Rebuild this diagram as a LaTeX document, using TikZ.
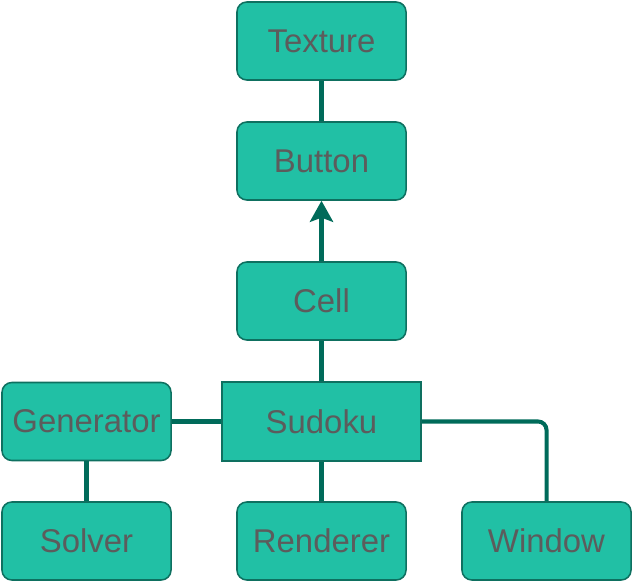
\documentclass[tikz,border=0pt]{standalone}
\usepackage{fontspec}
\setmainfont{Liberation Sans}
\usepackage{tikz}
\usetikzlibrary{arrows.meta}

\definecolor{boxfill}{HTML}{21C0A5}
\definecolor{boxline}{HTML}{0E7060}
\definecolor{linkline}{HTML}{006B5A}
\definecolor{labelgray}{HTML}{5C5C5C}

\begin{document}
\begin{tikzpicture}[x = 0.025cm, y = -0.025cm,
    classbox/.style = {fill = boxfill, draw = boxline, line width = 1.1pt, rounded corners = 7pt,
        text = labelgray, font = \fontsize{23.4}{28}\selectfont,
        minimum width = 4.225cm, minimum height = 1.95cm, inner sep = 0pt},
    mainbox/.style = {classbox, rounded corners = 0pt, minimum width = 4.975cm, minimum height = 1.975cm},
    link/.style = {linkline, line width = 2.85pt}]
    \useasboundingbox (0, 0) rectangle (632, 582);
    \node [classbox] (texture) at (321.5, 41) {Texture};
    \node [classbox] (button) at (321.5, 161) {Button};
    \node [classbox] (cell) at (321.5, 301) {Cell};
    \node [mainbox] (sudoku) at (321.5, 421.5) {Sudoku};
    \node [classbox] (generator) at (86.5, 421.5) {Generator};
    \node [classbox] (solver) at (86.5, 541) {Solver};
    \node [classbox] (renderer) at (321.5, 541) {Renderer};
    \node [classbox] (window) at (546.5, 541) {Window};
    \draw [link] (texture) -- (button);
    \draw [link, -{Stealth[length = 15pt, width = 16.5pt, inset = 3pt]}] (cell) -- (button);
    \draw [link] (sudoku) -- (cell);
    \draw [link] (sudoku) -- (generator);
    \draw [link] (generator) -- (solver);
    \draw [link] (sudoku) -- (renderer);
    \draw [link, rounded corners = 6pt] (sudoku.east) -| (window.north);
\end{tikzpicture}
\end{document}
